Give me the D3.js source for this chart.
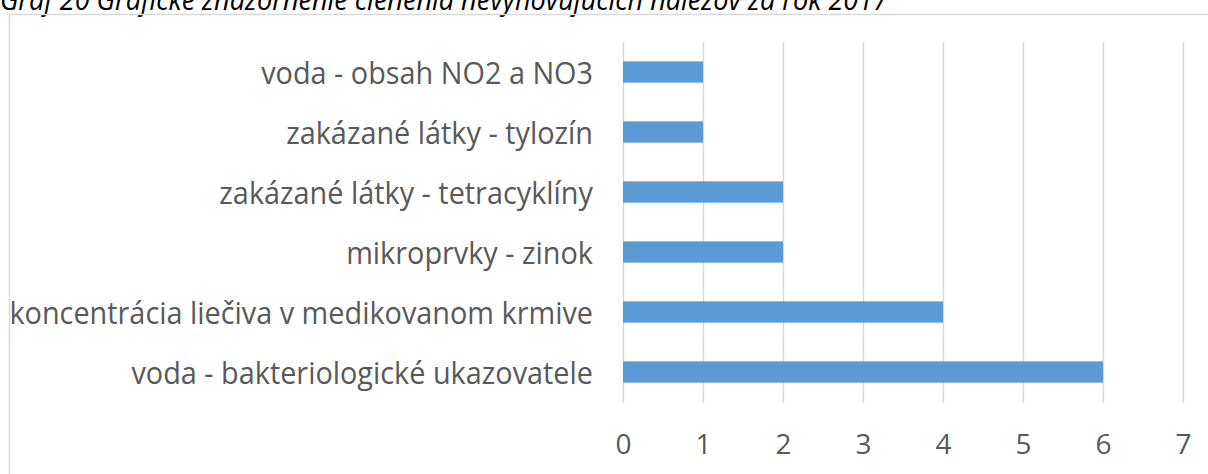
<!DOCTYPE html>
<html lang="sk">
<head>
<meta charset="UTF-8">
<title>Graf 20</title>
<script src="https://d3js.org/d3.v7.min.js"></script>
<style>
    body { margin: 0; background: #fff; font-family: "Open Sans", sans-serif; }
    svg { display: block; }
</style>
</head>
<body>
<div id="chart"></div>
<script>
// Data (top to bottom as shown)
const categories = [
    "voda - obsah NO2 a NO3",
    "zakázané látky - tylozín",
    "zakázané látky - tetracyklíny",
    "mikroprvky - zinok",
    "koncentrácia liečiva v medikovanom krmive",
    "voda - bakteriologické ukazovatele"
];
const values = [1, 1, 2, 2, 4, 6];
const xTicks = [0, 1, 2, 3, 4, 5, 6, 7];
const title = "Graf 20 Grafické znázornenie členenia nevyhovujúcich nálezov za rok 2017";

const W = 1208, H = 474;
const svg = d3.select("#chart").append("svg")
    .attr("width", W)
    .attr("height", H);

// title, clipped at the top like in the source
svg.append("text")
    .attr("x", 0)
    .attr("y", 10)
    .attr("font-size", 29)
    .attr("font-style", "italic")
    .attr("fill", "#000")
    .attr("textLength", 888)
    .attr("lengthAdjust", "spacingAndGlyphs")
    .text(title);

// chart frame
svg.append("rect")
    .attr("x", 9.5)
    .attr("y", 14.5)
    .attr("width", W + 20)
    .attr("height", H + 20)
    .attr("fill", "none")
    .attr("stroke", "#d9d9d9")
    .attr("stroke-width", 1.5);

const plotTop = 42, plotBottom = 402;

const x = d3.scaleLinear()
    .domain([0, 7])
    .range([623, 1183]);

const y = d3.scaleBand()
    .domain(categories)
    .range([plotTop, plotBottom])
    .paddingInner(0.645)
    .paddingOuter(0.3225);

// gridlines
svg.append("g")
    .selectAll("line")
    .data(xTicks)
    .join("line")
    .attr("x1", d => x(d) + 0.5)
    .attr("x2", d => x(d) + 0.5)
    .attr("y1", plotTop)
    .attr("y2", plotBottom + 1)
    .attr("stroke", "#d9d9d9")
    .attr("stroke-width", 1.5);

// bars
svg.append("g")
    .selectAll("rect")
    .data(categories)
    .join("rect")
    .attr("x", x(0))
    .attr("y", d => y(d))
    .attr("width", (d, i) => x(values[i]) - x(0))
    .attr("height", y.bandwidth())
    .attr("fill", "#5b9bd5");

// x axis labels
const xAxis = svg.append("g")
    .attr("transform", `translate(0,${plotBottom})`)
    .call(d3.axisBottom(x).tickValues(xTicks).tickSize(0).tickPadding(32).tickFormat(d3.format("d")));
xAxis.select(".domain").remove();
xAxis.selectAll("text")
    .attr("font-family", "Open Sans, sans-serif")
    .attr("font-size", 28)
    .attr("fill", "#595959");

// y axis labels, squeezed a little to the narrower source font
const yAxis = svg.append("g")
    .attr("transform", `translate(${x(0)},0)`)
    .call(d3.axisLeft(y).tickSize(0).tickPadding(30));
yAxis.select(".domain").remove();
yAxis.selectAll("text")
    .attr("font-family", "Open Sans, sans-serif")
    .attr("font-size", 31)
    .attr("dy", "0.4em")
    .attr("fill", "#595959")
    .each(function () {
        const len = this.getComputedTextLength();
        d3.select(this)
            .attr("textLength", len * 0.93)
            .attr("lengthAdjust", "spacingAndGlyphs");
    });
</script>
</body>
</html>
